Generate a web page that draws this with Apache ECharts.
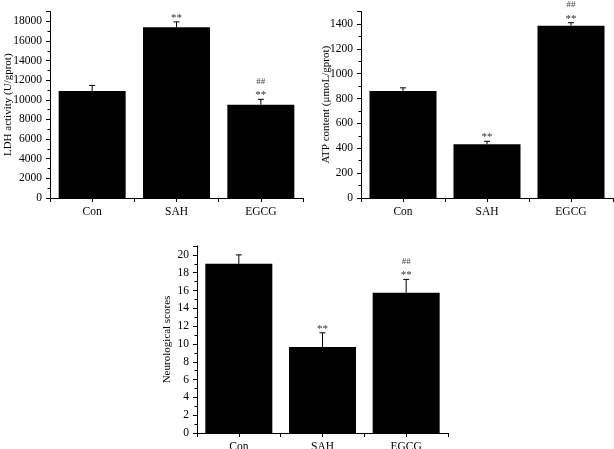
<!DOCTYPE html>
<html>
<head>
<meta charset="utf-8">
<script src="https://cdn.jsdelivr.net/npm/echarts@6/dist/echarts.min.js"></script>
<style>
  html, body { margin: 0; padding: 0; background: #fff; }
  #chart { width: 614px; height: 449px; }
</style>
</head>
<body>
<div id="chart"></div>
<script>
  // groups
  const categories = ['Con', 'SAH', 'EGCG']

  // LDH activity (U/gprot)
  const ldhMean = [10900, 17400, 9500]
  const ldhErr = [570, 540, 550]
  const ldhStars = ['', '**', '**']
  const ldhHash = ['', '', '##']

  // ATP content
  const atpMean = [860, 432, 1386]
  const atpErr = [26, 24, 24]
  const atpStars = ['', '**', '**']
  const atpHash = ['', '', '##']

  // neurological scores
  const neuroMean = [19.0, 9.65, 15.75]
  const neuroErr = [1.0, 1.6, 1.5]
  const neuroStars = ['', '**', '**']
  const neuroHash = ['', '', '##']

  const FONT = 'Liberation Serif'
  const chart = echarts.init(document.getElementById('chart'), null, { renderer: 'canvas' })

  function xAxis(idx) {
    return {
      type: 'value',
      gridIndex: idx,
      min: -0.5,
      max: 2.5,
      interval: 0.5,
      axisLine: { onZero: false, lineStyle: { color: '#000', width: 1 } },
      axisTick: { show: true, length: 4, lineStyle: { color: '#000' } },
      splitLine: { show: false },
      axisLabel: {
        margin: 8,
        color: '#000',
        fontFamily: FONT,
        fontSize: 11.5,
        showMinLabel: true,
        showMaxLabel: true,
        formatter: v => (Number.isInteger(v) && v >= 0 && v < categories.length) ? categories[v] : ''
      }
    }
  }

  function yAxis(idx, max, step, name, gap) {
    return {
      type: 'value',
      gridIndex: idx,
      min: 0,
      max: max,
      interval: step,
      name: name,
      nameLocation: 'middle',
      nameGap: gap,
      nameMoveOverlap: false,
      nameTextStyle: { color: '#000', fontFamily: FONT, fontSize: 11 },
      axisLine: { show: true, onZero: false, lineStyle: { color: '#000', width: 1 } },
      axisTick: { show: true, length: 4, lineStyle: { color: '#000' } },
      minorTick: { show: true, splitNumber: 2, length: 2.5, lineStyle: { color: '#000' } },
      splitLine: { show: false },
      axisLabel: {
        margin: 8,
        color: '#000',
        fontFamily: FONT,
        fontSize: 11.5,
        formatter: v => (v % step === 0 ? String(v) : '')
      }
    }
  }

  function bars(idx, mean) {
    return {
      type: 'bar',
      xAxisIndex: idx,
      yAxisIndex: idx,
      barWidth: 67,
      itemStyle: { color: '#000' },
      data: categories.map((c, i) => [i, mean[i]])
    }
  }

  // error bar (upper half only) + significance marks
  function errors(idx, mean, err, stars, hash) {
    return {
      type: 'custom',
      xAxisIndex: idx,
      yAxisIndex: idx,
      z: 5,
      data: categories.map((c, i) => [i, mean[i], err[i]]),
      renderItem(params, api) {
        const i = params.dataIndex
        const base = api.coord([api.value(0), api.value(1)])
        const top = api.coord([api.value(0), api.value(1) + api.value(2)])
        const x = top[0]
        const children = [
          { type: 'line', shape: { x1: x, y1: base[1], x2: x, y2: top[1] }, style: { stroke: '#000', lineWidth: 1 } },
          { type: 'line', shape: { x1: x - 3, y1: top[1], x2: x + 3, y2: top[1] }, style: { stroke: '#000', lineWidth: 1 } }
        ]
        if (stars[i]) {
          children.push({
            type: 'text',
            style: { text: stars[i], x: x, y: top[1] - 4, align: 'center', verticalAlign: 'middle', fill: '#333', font: '11px ' + FONT }
          })
        }
        if (hash[i]) {
          children.push({
            type: 'text',
            style: { text: hash[i], x: x, y: top[1] - 18, align: 'center', verticalAlign: 'middle', fill: '#444', font: '9px ' + FONT }
          })
        }
        return { type: 'group', children: children }
      }
    }
  }

  chart.setOption({
    animation: false,
    backgroundColor: '#fff',
    grid: [
      { left: 50, top: 11.5, width: 253, height: 186.5, containLabel: false, outerBoundsMode: 'none' },
      { left: 361, top: 11.5, width: 252, height: 186.5, containLabel: false, outerBoundsMode: 'none' },
      { left: 197, top: 246, width: 251, height: 187, containLabel: false, outerBoundsMode: 'none' }
    ],
    xAxis: [xAxis(0), xAxis(1), xAxis(2)],
    yAxis: [
      yAxis(0, 19000, 2000, 'LDH activity (U/gprot)', 36),
      yAxis(1, 1500, 200, 'ATP content (μmoL/gprot)', 29),
      yAxis(2, 21, 2, 'Neurological scores', 24)
    ],
    series: [
      bars(0, ldhMean),
      errors(0, ldhMean, ldhErr, ldhStars, ldhHash),
      bars(1, atpMean),
      errors(1, atpMean, atpErr, atpStars, atpHash),
      bars(2, neuroMean),
      errors(2, neuroMean, neuroErr, neuroStars, neuroHash)
    ]
  })
</script>
</body>
</html>
